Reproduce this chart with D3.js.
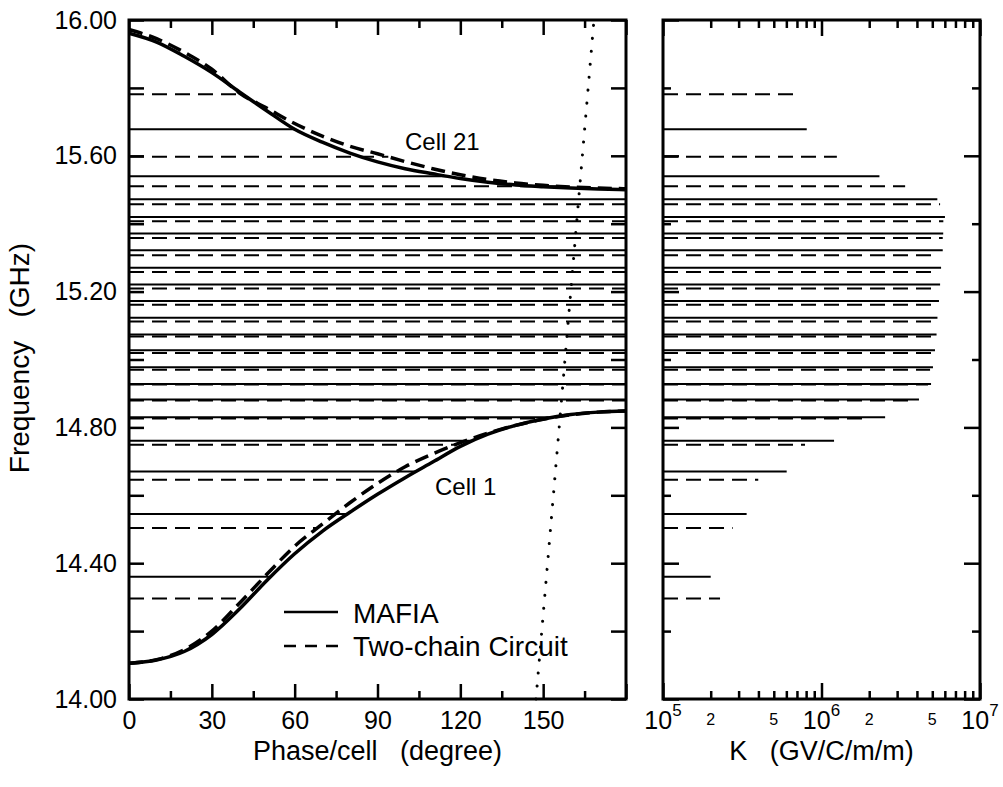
<!DOCTYPE html>
<html>
<head>
<meta charset="utf-8">
<script src="https://cdn.jsdelivr.net/npm/d3@7/dist/d3.min.js"></script>
<style>
  body { margin: 0; background: #fff; }
  svg { display: block; font-family: 'Liberation Sans', Arial, Helvetica, sans-serif; }
</style>
</head>
<body>
<div id="chart"></div>
<script>
var phases = [0, 10, 20, 30, 40, 50, 60, 70, 80, 90, 100, 110, 120, 130, 140, 150, 160, 170, 180];
var mafiaUpper = [15.961, 15.935, 15.893, 15.845, 15.788, 15.732, 15.678, 15.640, 15.608, 15.582,
  15.562, 15.547, 15.533, 15.522, 15.514, 15.509, 15.505, 15.502, 15.500];
var circuitUpper = [15.972, 15.945, 15.905, 15.855, 15.785, 15.740, 15.695, 15.658, 15.628, 15.606,
  15.583, 15.562, 15.544, 15.530, 15.520, 15.513, 15.508, 15.505, 15.503];
var mafiaLower = [14.105, 14.115, 14.140, 14.190, 14.265, 14.350, 14.428, 14.494, 14.550, 14.603,
  14.652, 14.698, 14.744, 14.780, 14.806, 14.825, 14.838, 14.845, 14.848];
var circuitLower = [14.105, 14.116, 14.145, 14.200, 14.282, 14.368, 14.450, 14.515, 14.578, 14.635,
  14.684, 14.722, 14.755, 14.783, 14.806, 14.824, 14.837, 14.845, 14.848];

// speed of light line (phase, GHz)
var lightLine = [[147.4, 14.0], [168.4, 16.0]];

// mode frequencies (GHz) and loss factors K (GV/C/m/m)
var mafiaFreq = [15.678, 15.540, 15.472, 15.420, 15.371, 15.322, 15.270, 15.221, 15.172, 15.123,
  15.074, 15.027, 14.977, 14.928, 14.882, 14.830, 14.761, 14.670, 14.545, 14.360];
var mafiaK = [8.07e5, 2.32e6, 5.38e6, 6.01e6, 5.86e6, 5.82e6, 5.68e6, 5.60e6, 5.51e6, 5.39e6,
  5.32e6, 5.20e6, 5.05e6, 4.91e6, 4.12e6, 2.52e6, 1.20e6, 6.03e5, 3.37e5, 2.00e5];
var circuitFreq = [15.781, 15.597, 15.510, 15.457, 15.407, 15.358, 15.307, 15.258, 15.209, 15.161,
  15.112, 15.068, 15.019, 14.970, 14.926, 14.879, 14.826, 14.749, 14.646, 14.504, 14.296];
var circuitK = [6.64e5, 1.25e6, 3.37e6, 5.60e6, 5.87e6, 5.82e6, 5.20e6, 5.13e6, 5.03e6, 5.03e6,
  4.95e6, 4.91e6, 4.91e6, 4.84e6, 4.70e6, 3.89e6, 1.94e6, 7.87e5, 3.99e5, 2.75e5, 2.29e5];

// ticks
var phaseMajor = [0, 30, 60, 90, 120, 150, 180];
var phaseMinor = [15, 45, 75, 105, 135, 165];
var freqMajor = [14.0, 14.4, 14.8, 15.2, 15.6, 16.0];
var freqMinor = [14.2, 14.6, 15.0, 15.4, 15.8];
var kMajor = [1e5, 1e6, 1e7];
var kMinor = [2e5, 3e5, 4e5, 5e5, 6e5, 7e5, 8e5, 9e5, 2e6, 3e6, 4e6, 5e6, 6e6, 7e6, 8e6, 9e6];
var kLabels = [1e5, 2e5, 5e5, 1e6, 2e6, 5e6, 1e7];

var width = 1003;
var height = 787;
var ink = '#000';
var tickFont = 25;
var titleFont = 27;

var svg = d3.select('#chart').append('svg')
  .attr('width', width)
  .attr('height', height)
  .style('background-color', '#fff');

var x = d3.scaleLinear().domain([0, 180]).range([129, 626]);
var y = d3.scaleLinear().domain([14, 16]).range([699, 20]);
var xk = d3.scaleLog().domain([1e5, 1e7]).range([663, 980]);

// phase where a band curve reaches frequency f, null if it never does
function crossPhase(curve, f) {
  for (var i = 1; i < phases.length; i++) {
    var a = curve[i - 1], b = curve[i];
    if (a !== b && (f - a) * (f - b) <= 0) {
      return phases[i - 1] + (f - a) / (b - a) * (phases[i] - phases[i - 1]);
    }
  }
  return null;
}
function lineEnd(f, upper, lower) {
  var p = crossPhase(upper, f);
  if (p === null) p = crossPhase(lower, f);
  return p === null ? 180 : p;
}

// horizontal mode lines, left panel
function modeLines(g, freqs, upper, lower, dash) {
  g.append('g').selectAll('line')
    .data(freqs)
    .enter()
    .append('line')
    .attr('x1', x(0))
    .attr('x2', function (d) { return x(lineEnd(d, upper, lower)); })
    .attr('y1', function (d) { return y(d); })
    .attr('y2', function (d) { return y(d); })
    .attr('stroke', ink)
    .attr('stroke-width', 2)
    .attr('stroke-dasharray', dash);
}
modeLines(svg, mafiaFreq, mafiaUpper, mafiaLower, null);
modeLines(svg, circuitFreq, circuitUpper, circuitLower, '15,8');

// horizontal K lines, right panel
function kLines(g, freqs, ks, dash) {
  g.append('g').selectAll('line')
    .data(freqs)
    .enter()
    .append('line')
    .attr('x1', xk(1e5))
    .attr('x2', function (d, i) { return xk(ks[i]); })
    .attr('y1', function (d) { return y(d); })
    .attr('y2', function (d) { return y(d); })
    .attr('stroke', ink)
    .attr('stroke-width', 2)
    .attr('stroke-dasharray', dash);
}
kLines(svg, mafiaFreq, mafiaK, null);
kLines(svg, circuitFreq, circuitK, '15,8');

// dispersion curves
var curveLine = d3.line()
  .x(function (d, i) { return x(phases[i]); })
  .y(function (d) { return y(d); })
  .curve(d3.curveMonotoneX);

[[mafiaUpper, null], [mafiaLower, null], [circuitUpper, '14,7'], [circuitLower, '14,7']].forEach(function (c) {
  svg.append('path')
    .attr('d', curveLine(c[0]))
    .attr('fill', 'none')
    .attr('stroke', ink)
    .attr('stroke-width', 3.5)
    .attr('stroke-dasharray', c[1]);
});

// light line, dotted
svg.append('path')
  .attr('d', d3.line().x(function (d) { return x(d[0]); }).y(function (d) { return y(d[1]); })(lightLine))
  .attr('fill', 'none')
  .attr('stroke', ink)
  .attr('stroke-width', 3)
  .attr('stroke-linecap', 'round')
  .attr('stroke-dasharray', '0.1,12.9');

// curve labels
svg.append('text').attr('x', 405).attr('y', 150)
  .style('font-size', '24px').attr('fill', ink).text('Cell 21');
svg.append('text').attr('x', 435).attr('y', 495)
  .style('font-size', '24px').attr('fill', ink).text('Cell 1');

// legend
var legend = svg.append('g');
[['MAFIA', null, 612, 623], ['Two-chain Circuit', '12,9', 646, 656]].forEach(function (l) {
  legend.append('line')
    .attr('x1', 284).attr('x2', 338)
    .attr('y1', l[2]).attr('y2', l[2])
    .attr('stroke', ink)
    .attr('stroke-width', 2.5)
    .attr('stroke-dasharray', l[1]);
  legend.append('text')
    .attr('x', 353).attr('y', l[3])
    .style('font-size', '28px')
    .attr('fill', ink)
    .text(l[0]);
});

// axes: all ticks point inward
function styleAxis(g) {
  g.select('.domain').remove();
  g.selectAll('.tick line').attr('stroke', ink).attr('stroke-width', 2.5);
  g.selectAll('.tick text')
    .attr('fill', ink)
    .style('font-size', tickFont + 'px')
    .style('font-family', "'Liberation Sans', Arial, Helvetica, sans-serif");
}
function addAxis(axis, tx, ty) {
  svg.append('g')
    .attr('transform', 'translate(' + tx + ',' + ty + ')')
    .call(axis)
    .call(styleAxis);
}
var noLabel = function () { return ''; };

// left panel
addAxis(d3.axisBottom(x).tickValues(phaseMajor).tickSize(-15).tickPadding(12)
  .tickFormat(function (d) { return d === 180 ? '' : d3.format('d')(d); }), 0, y(14));
addAxis(d3.axisBottom(x).tickValues(phaseMinor).tickSize(-8).tickFormat(noLabel), 0, y(14));
addAxis(d3.axisTop(x).tickValues(phaseMajor).tickSize(-15).tickFormat(noLabel), 0, y(16));
addAxis(d3.axisTop(x).tickValues(phaseMinor).tickSize(-8).tickFormat(noLabel), 0, y(16));
addAxis(d3.axisLeft(y).tickValues(freqMajor).tickSize(-15).tickPadding(12).tickFormat(d3.format('.2f')), x(0), 0);
addAxis(d3.axisLeft(y).tickValues(freqMinor).tickSize(-15).tickFormat(noLabel), x(0), 0);
addAxis(d3.axisRight(y).tickValues(freqMajor.concat(freqMinor)).tickSize(-15).tickFormat(noLabel), x(180), 0);

// right panel
addAxis(d3.axisBottom(xk).tickValues(kMajor).tickSize(-16).tickFormat(noLabel), 0, y(14));
addAxis(d3.axisBottom(xk).tickValues(kMinor).tickSize(-8).tickFormat(noLabel), 0, y(14));
addAxis(d3.axisTop(xk).tickValues(kMajor).tickSize(-16).tickFormat(noLabel), 0, y(16));
addAxis(d3.axisTop(xk).tickValues(kMinor).tickSize(-8).tickFormat(noLabel), 0, y(16));
addAxis(d3.axisLeft(y).tickValues(freqMajor).tickSize(-16).tickFormat(noLabel), xk(1e5), 0);
addAxis(d3.axisLeft(y).tickValues(freqMinor).tickSize(-8).tickFormat(noLabel), xk(1e5), 0);
addAxis(d3.axisRight(y).tickValues(freqMajor).tickSize(-16).tickFormat(noLabel), xk(1e7), 0);
addAxis(d3.axisRight(y).tickValues(freqMinor).tickSize(-8).tickFormat(noLabel), xk(1e7), 0);

// log tick labels: 10^n large, mantissas small
var kText = svg.append('g').selectAll('text')
  .data(kLabels)
  .enter()
  .append('text')
  .attr('x', function (d) { return xk(d); })
  .attr('y', 729)
  .attr('text-anchor', 'middle')
  .attr('fill', ink);
kText.each(function (d) {
  var t = d3.select(this);
  var e = Math.log10(d);
  if (Math.abs(e - Math.round(e)) < 1e-9) {
    t.append('tspan').style('font-size', tickFont + 'px').text('10');
    t.append('tspan').attr('dy', -13).style('font-size', '17px').text(Math.round(e));
  } else {
    t.attr('y', 725).style('font-size', '16px').text(Math.round(d / Math.pow(10, Math.floor(e))));
  }
});

// frames
[[x(0), x(180)], [xk(1e5), xk(1e7)]].forEach(function (r) {
  svg.append('rect')
    .attr('x', r[0]).attr('y', y(16))
    .attr('width', r[1] - r[0]).attr('height', y(14) - y(16))
    .attr('fill', 'none')
    .attr('stroke', ink)
    .attr('stroke-width', 3);
});

// axis titles
svg.append('text')
  .attr('x', (x(0) + x(180)) / 2).attr('y', 760)
  .attr('text-anchor', 'middle').style('font-size', titleFont + 'px').attr('fill', ink)
  .text('Phase/cell\u00a0\u00a0\u00a0(degree)');
svg.append('text')
  .attr('x', (xk(1e5) + xk(1e7)) / 2).attr('y', 760)
  .attr('text-anchor', 'middle').style('font-size', titleFont + 'px').attr('fill', ink)
  .text('K\u00a0\u00a0\u00a0(GV/C/m/m)');
svg.append('text')
  .attr('transform', 'translate(29,' + 358 + ') rotate(-90)')
  .attr('text-anchor', 'middle').style('font-size', '28px').attr('fill', ink)
  .text('Frequency\u00a0\u00a0\u00a0(GHz)');
</script>
</body>
</html>
